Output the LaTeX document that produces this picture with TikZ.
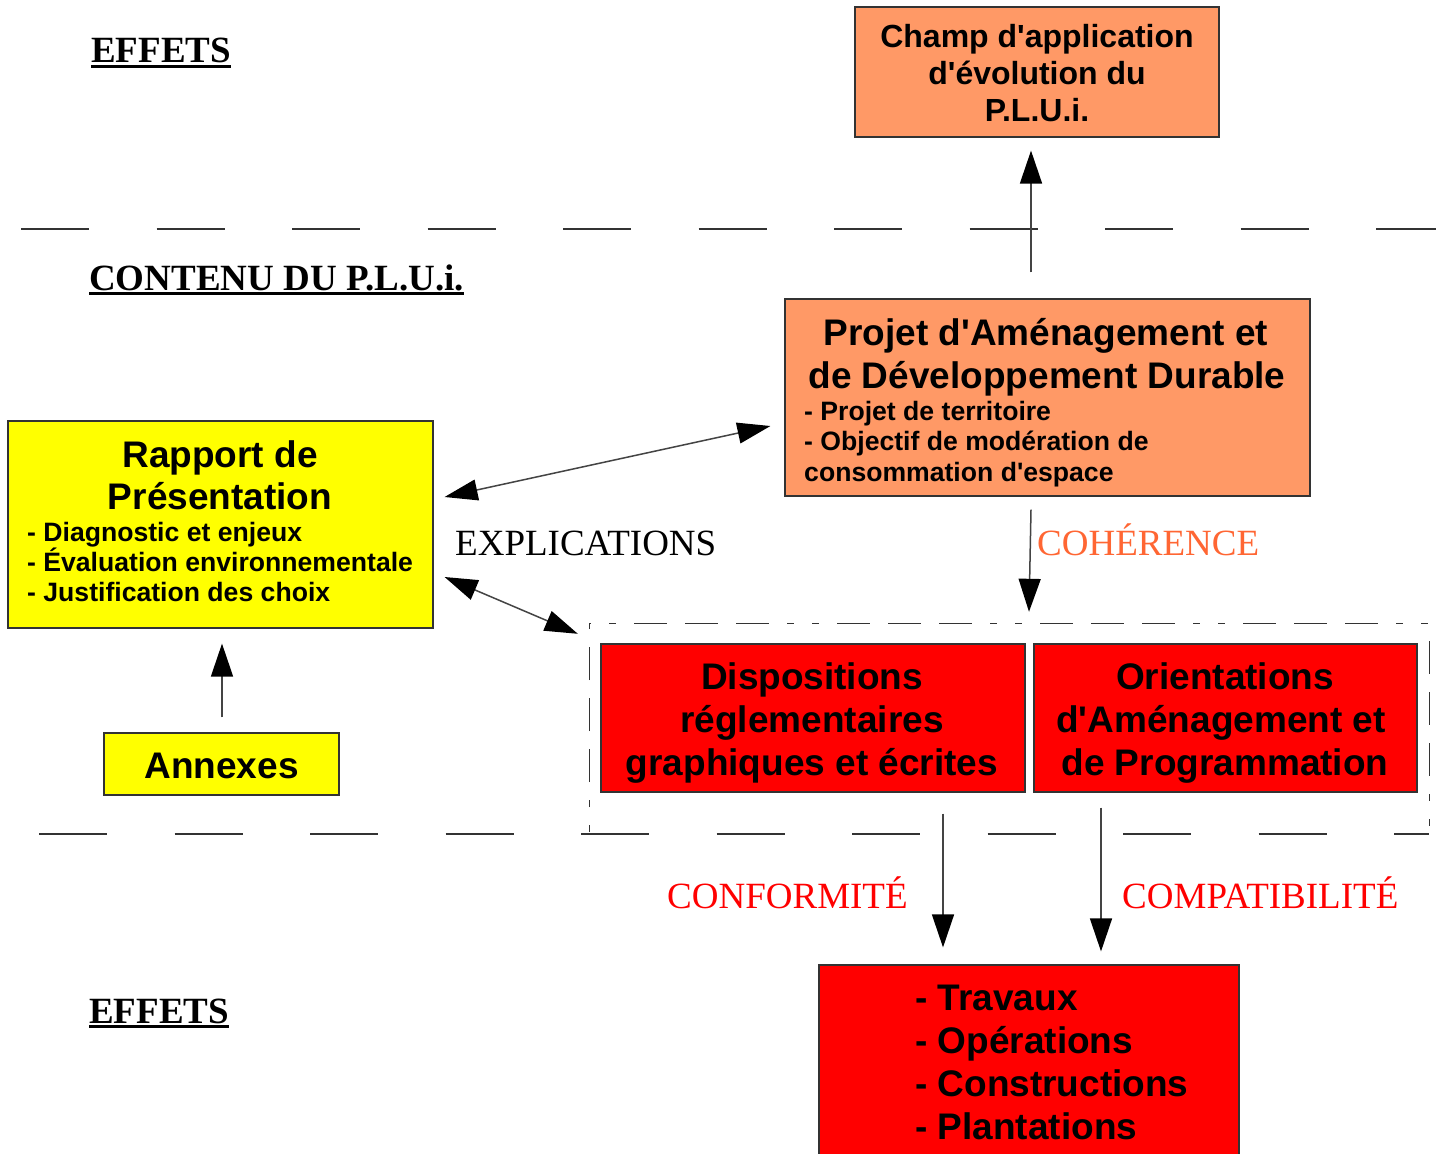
\documentclass[tikz,border=0pt]{standalone}
\usepackage{fontspec}
\setmainfont{Liberation Serif}
\setsansfont{Liberation Sans}
\usetikzlibrary{arrows.meta,calc}
\definecolor{orangebox}{HTML}{FF9966}
\definecolor{cohcol}{HTML}{FF6633}
\definecolor{redbox}{HTML}{FF0000}
\definecolor{yellowbox}{HTML}{FFFF00}
\definecolor{boxline}{HTML}{333333}
\definecolor{arrline}{HTML}{444444}
\newcommand\apo{\textquotesingle}
\tikzset{
  box/.style={draw=boxline, line width=1.2pt, inner sep=0pt},
  big/.style={font=\sffamily\bfseries\fontsize{37}{43}\selectfont, inner sep=0pt},
  small/.style={font=\sffamily\bfseries\fontsize{26.6}{30}\selectfont, inner sep=0pt},
  mid/.style={font=\sffamily\bfseries\fontsize{32}{37}\selectfont, inner sep=0pt},
  lbl/.style={font=\rmfamily\fontsize{37}{43}\selectfont, inner sep=0pt},
  head/.style={font=\rmfamily\bfseries\fontsize{37}{43}\selectfont, inner sep=0pt},
  arr/.style={draw=arrline, line width=1.5pt, -{Triangle[length=33pt,width=22pt,color=black]}},
  dbl/.style={draw=arrline, line width=1.5pt, {Triangle[length=33pt,width=21pt,color=black]}-{Triangle[length=33pt,width=21pt,color=black]}},
  sepline/.style={draw=boxline, line width=1.3pt, dash pattern=on 68pt off 67.5pt},
  grpline/.style={draw=boxline, line width=1.2pt, dash pattern=on 7pt off 18pt on 7pt off 18pt on 33pt off 18pt on 33pt off 18pt on 33pt off 18pt},
  uline/.style={draw=black, line width=2.5pt}
}
\begin{document}
\begin{tikzpicture}[x=1pt,y=-1pt]
\useasboundingbox (0,0) rectangle (1439,1153);
\fill[white] (0,0) rectangle (1439,1153);

% separators
\draw[sepline] (21,229) -- (1436,229);
\draw[sepline] (39,834) -- (1429,834);

% headings
\node[head, anchor=base west] (eff1) at (91,63) {EFFETS};
\draw[uline] ([shift={(0,3.5)}]eff1.base west) -- ([shift={(0,3.5)}]eff1.base east);
\node[head, anchor=base west] (cont) at (89,290) {CONTENU DU P.L.U.i.};
\draw[uline] ([shift={(0,3.5)}]cont.base west) -- ([shift={(0,3.5)}]cont.base east);
\node[head, anchor=base west] (eff2) at (89,1023) {EFFETS};
\draw[uline] ([shift={(0,3.5)}]eff2.base west) -- ([shift={(0,3.5)}]eff2.base east);

% Champ d'application
\node[box, fill=orangebox, minimum width=364pt, minimum height=130pt] (champ) at (1037,72) {};
\node[mid, anchor=base] (champ1) at (1037,47.5) {Champ d\apo application};
\node[mid, anchor=base] (champ2) at (1037,84.5) {d\apo évolution du};
\node[mid, anchor=base] (champ3) at (1037,121.5) {P.L.U.i.};

% PADD
\node[box, fill=orangebox, minimum width=525pt, minimum height=197pt] (padd) at (1047.5,397.5) {};
\node[big, anchor=base] (padd1) at (1046,345) {Projet d\apo Aménagement et};
\node[big, anchor=base] (padd2) at (1047,388) {de Développement Durable};
\node[small, anchor=base west] (padd3) at (804,420) {- Projet de territoire};
\node[small, anchor=base west] (padd4) at (804,450) {- Objectif de modération de};
\node[small, anchor=base west] (padd5) at (804,481) {consommation d\apo espace};

% Rapport
\node[box, fill=yellowbox, minimum width=425pt, minimum height=207pt] (rapport) at (220.5,524.5) {};
\node[big, anchor=base] (rap1) at (220,467) {Rapport de};
\node[big, anchor=base] (rap2) at (220,509) {Présentation};
\node[small, anchor=base west] (rap3) at (27,541) {- Diagnostic et enjeux};
\node[small, anchor=base west] (rap4) at (27,571) {- Évaluation environnementale};
\node[small, anchor=base west] (rap5) at (27,601) {- Justification des choix};

% Annexes
\node[box, fill=yellowbox, minimum width=235pt, minimum height=62pt] (annexes) at (221.5,764) {};
\node[big, anchor=base] (ann1) at (221.5,778) {Annexes};

% group frame
\node[minimum width=839pt, minimum height=208pt, inner sep=0pt] (grp) at (1009.5,728) {};
\draw[grpline] (grp.south west) -- (grp.north west) -- (grp.north east) -- (grp.south east);

% Dispositions
\node[box, fill=redbox, minimum width=424pt, minimum height=148pt] (disp) at (813,718) {};
\node[big, anchor=base] (disp1) at (812,689) {Dispositions};
\node[big, anchor=base] (disp2) at (812,732) {réglementaires};
\node[big, anchor=base] (disp3) at (812,775) {graphiques et écrites};

% OAP
\node[box, fill=redbox, minimum width=383pt, minimum height=148pt] (oap) at (1225.5,718) {};
\node[big, anchor=base] (oap1) at (1225,689) {Orientations};
\node[big, anchor=base] (oap2) at (1221,732) {d\apo Aménagement et};
\node[big, anchor=base] (oap3) at (1225,775) {de Programmation};

% Travaux
\node[box, fill=redbox, minimum width=420pt, minimum height=200pt] (trav) at (1029,1065) {};
\node[big, anchor=base west] (trav1) at (915,1010) {- Travaux};
\node[big, anchor=base west] (trav2) at (915,1053) {- Opérations};
\node[big, anchor=base west] (trav3) at (915,1096) {- Constructions};
\node[big, anchor=base west] (trav4) at (915,1139) {- Plantations};

% labels
\node[lbl, anchor=base west] (expl) at (455,555) {EXPLICATIONS};
\node[lbl, anchor=base west, text=cohcol] (coh) at (1037,555) {COHÉRENCE};
\node[lbl, anchor=base west, text=redbox] (conf) at (667,908) {CONFORMITÉ};
\node[lbl, anchor=base west, text=redbox] (comp) at (1122,908) {COMPATIBILITÉ};

% arrows
\draw[arr] ([shift={(-16.5,-26)}]padd.north) -- ([shift={(-6,13)}]champ.south);
\draw[arr] ([shift={(0.5,-15)}]annexes.north) -- ([shift={(1.5,15)}]rapport.south);
\draw[arr] ([shift={(-16.5,13)}]padd.south) -- ([shift={(19.5,-12)}]grp.north);
\draw[arr] ([shift={(130,21)}]disp.south) -- ([shift={(-86,-17)}]trav.north);
\draw[arr] ([shift={(-124.5,15)}]oap.south) -- ([shift={(72,-13)}]trav.north);
\draw[dbl] ([shift={(11,-27.5)}]rapport.east) -- ([shift={(-14,28.5)}]padd.west);
\draw[dbl] ([shift={(11,52.5)}]rapport.east) -- ([shift={(-12,10)}]grp.north west);
\end{tikzpicture}
\end{document}
